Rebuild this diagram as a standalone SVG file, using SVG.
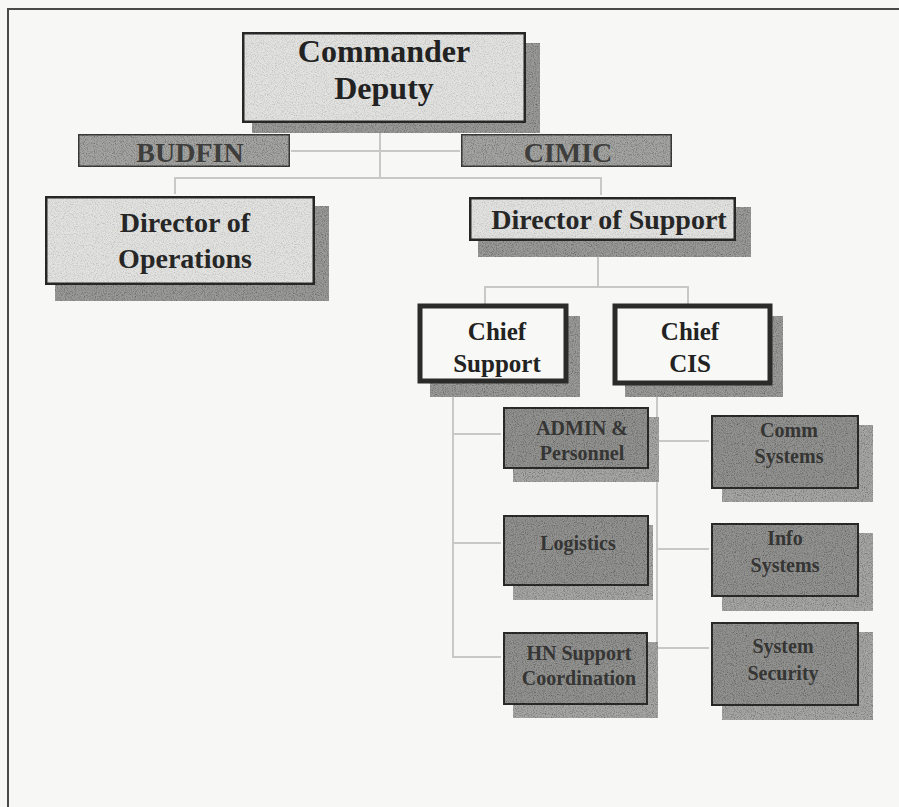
<svg xmlns="http://www.w3.org/2000/svg" width="899" height="807" viewBox="0 0 899 807">
  <style>
    text { font-family: "Liberation Serif", "Times New Roman", serif; font-weight: bold; text-anchor: middle; }
    .frame { fill: none; stroke: #4a4a48; stroke-width: 2; }
    .link { fill: none; stroke: #c8c8c6; stroke-width: 2; }
    .shadow { fill: #9a9a98; filter: url(#grain); }
    .shadow-lt { fill: #a6a6a4; filter: url(#grain); }
    .box-lt { fill: #e2e2e0; stroke: #2b2b2a; stroke-width: 5; filter: url(#grainLight); }
    .box-wt { fill: #f8f8f6; stroke: #2b2b2a; stroke-width: 5; }
    .bar { fill: #a4a4a2; stroke: #3c3c3b; stroke-width: 3; filter: url(#grain); }
    .box-dk { fill: #929290; stroke: #2f2f2e; stroke-width: 4; filter: url(#grain); }
    .t-big { font-size: 32px; fill: #222; }
    .t-dir { font-size: 28px; fill: #262626; }
    .t-bar { font-size: 28px; fill: #3e3e3d; }
    .t-chief { font-size: 25px; fill: #222; }
    .t-sub { font-size: 20px; fill: #353534; }
  </style>
  <defs>
    <!-- speckled printing texture for the filled boxes -->
    <filter id="grain" x="0" y="0" width="100%" height="100%">
      <feTurbulence type="fractalNoise" baseFrequency="0.9" numOctaves="2" seed="4" result="n"/>
      <feColorMatrix in="n" type="matrix" values="0 0 0 0 0  0 0 0 0 0  0 0 0 0 0  1.4 0 0 0 -0.6" result="dots"/>
      <feComposite in="dots" in2="SourceGraphic" operator="in" result="d"/>
      <feMerge><feMergeNode in="SourceGraphic"/><feMergeNode in="d"/></feMerge>
    </filter>
    <filter id="grainLight" x="0" y="0" width="100%" height="100%">
      <feTurbulence type="fractalNoise" baseFrequency="0.9" numOctaves="2" seed="7" result="n"/>
      <feColorMatrix in="n" type="matrix" values="0 0 0 0 0  0 0 0 0 0  0 0 0 0 0  0.8 0 0 0 -0.35" result="dots"/>
      <feComposite in="dots" in2="SourceGraphic" operator="in" result="d"/>
      <feMerge><feMergeNode in="SourceGraphic"/><feMergeNode in="d"/></feMerge>
    </filter>
  </defs>

  <!-- page -->
  <rect x="0" y="0" width="899" height="807" fill="#f7f7f5"/>
  <path class="frame" d="M8 807 V9 H899"/>

  <!-- connectors -->
  <g id="connectors">
    <path class="link" d="M380 125 V178"/>
    <path class="link" d="M291 151 H460"/>
    <path class="link" d="M175 194 V178 H601 V195"/>
    <path class="link" d="M598 243 V287"/>
    <path class="link" d="M485 304 V287 H688 V304"/>
    <path class="link" d="M453 382 V657 H501 M453 434 H501 M453 543 H501"/>
    <path class="link" d="M657 384 V648 H709 M657 441 H709 M657 549 H709"/>
  </g>

  <!-- top level -->
  <g id="commander">
    <rect class="shadow" x="252" y="43" width="288" height="90"/>
    <rect class="box-lt" x="242" y="32" width="284" height="91"/>
    <text class="t-big" x="384" y="62">Commander</text>
    <text class="t-big" x="384" y="99">Deputy</text>
  </g>

  <g id="budfin">
    <rect class="bar" x="78" y="134" width="212" height="33"/>
    <text class="t-bar" x="190" y="162">BUDFIN</text>
  </g>

  <g id="cimic">
    <rect class="bar" x="461" y="134" width="211" height="33"/>
    <text class="t-bar" x="568" y="162">CIMIC</text>
  </g>

  <!-- directors -->
  <g id="director-operations">
    <rect class="shadow" x="55" y="206" width="274" height="95"/>
    <rect class="box-lt" x="45" y="196" width="270" height="89"/>
    <text class="t-dir" x="185" y="232">Director of</text>
    <text class="t-dir" x="185" y="268">Operations</text>
  </g>

  <g id="director-support">
    <rect class="shadow" x="478" y="207" width="273" height="50"/>
    <rect class="box-lt" x="469" y="197" width="267" height="44"/>
    <text class="t-dir" x="609" y="229">Director of Support</text>
  </g>

  <!-- chiefs -->
  <g id="chief-support">
    <rect class="shadow" x="430" y="316" width="150" height="81"/>
    <rect class="box-wt" x="420" y="306" width="146" height="75"/>
    <text class="t-chief" x="497" y="340">Chief</text>
    <text class="t-chief" x="497" y="372">Support</text>
  </g>

  <g id="chief-cis">
    <rect class="shadow" x="625" y="316" width="158" height="81"/>
    <rect class="box-wt" x="615" y="306" width="155" height="77"/>
    <text class="t-chief" x="690" y="340">Chief</text>
    <text class="t-chief" x="690" y="372">CIS</text>
  </g>

  <!-- support branches -->
  <g id="admin-personnel">
    <rect class="shadow-lt" x="513" y="417" width="146" height="65"/>
    <rect class="box-dk" x="503" y="407" width="146" height="62"/>
    <text class="t-sub" x="582" y="435">ADMIN &amp;</text>
    <text class="t-sub" x="582" y="460">Personnel</text>
  </g>

  <g id="logistics">
    <rect class="shadow-lt" x="513" y="525" width="140" height="75"/>
    <rect class="box-dk" x="503" y="515" width="146" height="71"/>
    <text class="t-sub" x="578" y="550">Logistics</text>
  </g>

  <g id="hn-support">
    <rect class="shadow-lt" x="513" y="642" width="145" height="76"/>
    <rect class="box-dk" x="503" y="632" width="145" height="73"/>
    <text class="t-sub" x="579" y="660">HN Support</text>
    <text class="t-sub" x="579" y="685">Coordination</text>
  </g>

  <!-- CIS branches -->
  <g id="comm-systems">
    <rect class="shadow-lt" x="722" y="425" width="151" height="77"/>
    <rect class="box-dk" x="711" y="415" width="148" height="74"/>
    <text class="t-sub" x="789" y="437">Comm</text>
    <text class="t-sub" x="789" y="463">Systems</text>
  </g>

  <g id="info-systems">
    <rect class="shadow-lt" x="722" y="533" width="151" height="78"/>
    <rect class="box-dk" x="711" y="523" width="148" height="74"/>
    <text class="t-sub" x="785" y="545">Info</text>
    <text class="t-sub" x="785" y="572">Systems</text>
  </g>

  <g id="system-security">
    <rect class="shadow-lt" x="722" y="632" width="151" height="88"/>
    <rect class="box-dk" x="711" y="622" width="148" height="84"/>
    <text class="t-sub" x="783" y="653">System</text>
    <text class="t-sub" x="783" y="680">Security</text>
  </g>
</svg>
